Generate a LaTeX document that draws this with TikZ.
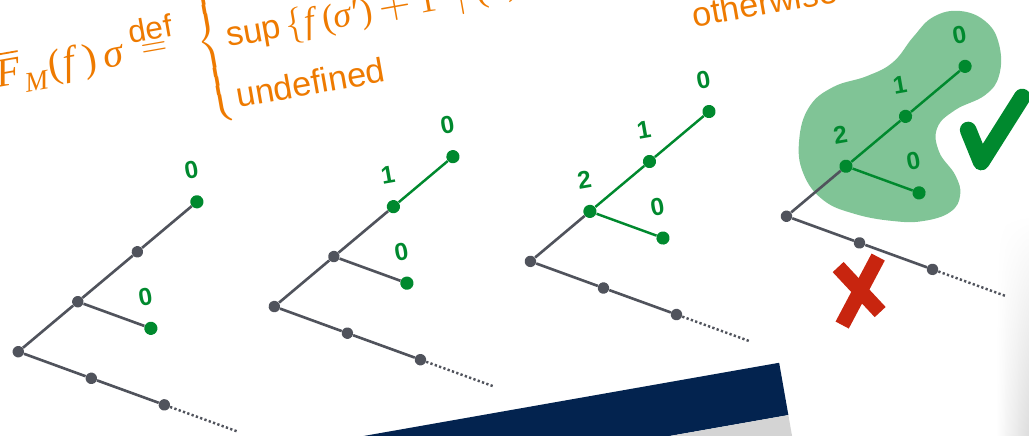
\documentclass[tikz,border=0pt]{standalone}
\usepackage{exscale}
\usepackage{fontspec}
\setmainfont{Liberation Sans}
\newfontfamily\tms{Liberation Serif}
\usetikzlibrary{fadings}

\definecolor{treegray}{RGB}{80,83,92}
\definecolor{okgreen}{RGB}{0,137,46}
\definecolor{formorange}{RGB}{238,122,0}
\definecolor{slidenavy}{RGB}{3,35,79}
\definecolor{barlight}{RGB}{212,212,212}
\definecolor{crossred}{RGB}{200,37,15}

\tikzfading[name=fade up, top color=transparent!100, bottom color=transparent!0]

\begin{document}
\begin{tikzpicture}[x=2cm, y=2cm,
  gdot/.style={circle, fill=treegray, inner sep=0pt, minimum size=6.5pt},
  adot/.style={circle, fill=okgreen, inner sep=0pt, minimum size=7.5pt},
  gedge/.style={treegray, line width=1.5pt},
  aedge/.style={okgreen, line width=1.4pt},
  tail/.style={treegray, line width=1.4pt, dash pattern=on 1.3pt off 1.3pt},
  num/.style={text=okgreen, inner sep=0pt, font=\fontsize{14}{14}\selectfont\bfseries},
  frm/.style={text=formorange, inner sep=0pt}]

\useasboundingbox (0,0) rectangle (10.29,4.36);
\clip (0,0) rectangle (10.29,4.36);

% ── BACKDROP (pixel grid, y down) ───────────────────────────────────────
\begin{scope}[yshift=8.72cm, x=0.02cm, y=-0.02cm]
  \shade[left color=white, right color=black!14, path fading=fade up]
    (996,215) rectangle (1029,440);
  \fill[slidenavy] (312,445) -- (779,362.7) -- (788.2,415) -- (618,445) -- cycle;
  \fill[barlight] (618,445) -- (788.2,415) -- (793.5,445) -- cycle;
  % blob round the accepted subtree
  \fill[okgreen!50] plot[smooth cycle, tension=0.7] coordinates {
    (960,11) (986,22) (999,45) (999,75) (985,95) (955,110) (937,128)
    (939,152) (955,175) (960,195) (950,212) (923,221) (893,221)
    (855,214) (823,200) (803,173) (799,140) (809,107) (833,87)
    (867,76) (893,62) (913,37) (933,17)};
\end{scope}

% ── EVERYTHING ELSE IN THE TILTED FRAME (root of tree 1 = origin) ───────
\begin{scope}[shift={(0.183,0.843)}, rotate=10,
  every node/.append style={transform shape}]

% formula
\node[frm, anchor=base west] (lhs) at (0.265,2.636)
  {\tms\fontsize{23}{25}\selectfont$\overline{\hbox{\itshape F}}$\kern1pt\raisebox{-5.5pt}{\fontsize{16}{16}\selectfont\itshape M}\kern1.5pt(\kern1pt\textit{f}\kern2.5pt)\kern4pt\textit{σ}};
\node[frm, font=\fontsize{18}{18}\selectfont] (defword) at (1.859,2.95) {def};
\node[frm, font=\fontsize{21}{21}\selectfont] (defeq) at (1.865,2.735) {$=$};
\node[frm, anchor=west, font=\fontsize{18}{20}\selectfont] (brace) at (2.292,2.728)
  {$\left\{\vrule height 49.5pt depth 40.5pt width 0pt\right.$};
\node[frm, anchor=base west, font=\fontsize{19.5}{22}\selectfont] (supline) at (2.594,2.636)
  {sup{\tms\fontsize{20.5}{22}\selectfont\kern3pt$\{$\kern0.5pt\textit{f}\kern2pt(\textit{σ}′)\kern4pt{\fontsize{24}{24}\selectfont$+$}\kern5pt1\kern11pt$|$\kern6pt(\textit{σ},}};
\node[frm, anchor=base west, font=\fontsize{19.5}{22}\selectfont] (undef) at (2.587,2.021) {undefined};
\node[frm, anchor=base west, font=\fontsize{19.5}{22}\selectfont] (other) at (7.218,2.021) {otherwise};

% ── TREE 1 ──────────────────────────────────────────────────────────────
\node[gdot] (t1r)  at (0,0) {};
\node[gdot] (t1u1) at (0.673,0.389) {};
\node[gdot] (t1u2) at (1.346,0.777) {};
\node[adot] (t1u3) at (2.019,1.166) {};
\node[adot] (t1b)  at (1.346,0) {};
\node[gdot] (t1d1) at (0.673,-0.389) {};
\node[gdot] (t1d2) at (1.346,-0.777) {};
\coordinate (t1e) at (2.019,-1.166);
\node[num] (t1n3) at (2.019,1.486) {0};
\node[num] (t1nb) at (1.346,0.32) {0};
\draw[gedge] (t1r) -- (t1u1);
\draw[gedge] (t1u1) -- (t1u2);
\draw[gedge] (t1u2) -- (t1u3);
\draw[gedge] (t1u1) -- (t1b);
\draw[gedge] (t1r) -- (t1d1);
\draw[gedge] (t1d1) -- (t1d2);
\draw[tail] (t1d2) -- (t1e);

% ── TREE 2 ──────────────────────────────────────────────────────────────
\node[gdot] (t2r)  at (2.6,0) {};
\node[gdot] (t2u1) at (3.273,0.389) {};
\node[adot] (t2u2) at (3.946,0.777) {};
\node[adot] (t2u3) at (4.619,1.166) {};
\node[adot] (t2b)  at (3.946,0) {};
\node[gdot] (t2d1) at (3.273,-0.389) {};
\node[gdot] (t2d2) at (3.946,-0.777) {};
\coordinate (t2e) at (4.619,-1.166);
\node[num] (t2n3) at (4.619,1.486) {0};
\node[num] (t2n2) at (3.946,1.097) {1};
\node[num] (t2nb) at (3.946,0.32) {0};
\draw[gedge] (t2r) -- (t2u1);
\draw[gedge] (t2u1) -- (t2u2);
\draw[aedge] (t2u2) -- (t2u3);
\draw[gedge] (t2u1) -- (t2b);
\draw[gedge] (t2r) -- (t2d1);
\draw[gedge] (t2d1) -- (t2d2);
\draw[tail] (t2d2) -- (t2e);

% ── TREE 3 ──────────────────────────────────────────────────────────────
\node[gdot] (t3r)  at (5.2,0) {};
\node[adot] (t3u1) at (5.873,0.389) {};
\node[adot] (t3u2) at (6.546,0.777) {};
\node[adot] (t3u3) at (7.219,1.166) {};
\node[adot] (t3b)  at (6.546,0) {};
\node[gdot] (t3d1) at (5.873,-0.389) {};
\node[gdot] (t3d2) at (6.546,-0.777) {};
\coordinate (t3e) at (7.219,-1.166);
\node[num] (t3n3) at (7.219,1.486) {0};
\node[num] (t3n2) at (6.546,1.097) {1};
\node[num] (t3n1) at (5.873,0.709) {2};
\node[num] (t3nb) at (6.546,0.32) {0};
\draw[gedge] (t3r) -- (t3u1);
\draw[aedge] (t3u1) -- (t3u2);
\draw[aedge] (t3u2) -- (t3u3);
\draw[aedge] (t3u1) -- (t3b);
\draw[gedge] (t3r) -- (t3d1);
\draw[gedge] (t3d1) -- (t3d2);
\draw[tail] (t3d2) -- (t3e);

% ── TREE 4 (inside the blob) ────────────────────────────────────────────
\node[gdot] (t4r)  at (7.8,0) {};
\node[adot] (t4u1) at (8.473,0.389) {};
\node[adot] (t4u2) at (9.146,0.777) {};
\node[adot] (t4u3) at (9.819,1.166) {};
\node[adot] (t4b)  at (9.146,0) {};
\node[gdot] (t4d1) at (8.473,-0.389) {};
\node[gdot] (t4d2) at (9.146,-0.777) {};
\coordinate (t4e) at (9.819,-1.166);
\node[num] (t4n3) at (9.819,1.486) {0};
\node[num] (t4n2) at (9.146,1.097) {1};
\node[num] (t4n1) at (8.473,0.709) {2};
\node[num] (t4nb) at (9.146,0.32) {0};
\draw[gedge] (t4r) -- (t4u1);
\draw[aedge] (t4u1) -- (t4u2);
\draw[aedge] (t4u2) -- (t4u3);
\draw[aedge] (t4u1) -- (t4b);
\draw[gedge] (t4r) -- (t4d1);
\draw[gedge] (t4d1) -- (t4d2);
\draw[tail] (t4d2) -- (t4e);
\end{scope}

% ── TICK AND CROSS (pixel grid) ─────────────────────────────────────────
\begin{scope}[yshift=8.72cm, x=0.02cm, y=-0.02cm]
  \draw[okgreen, line width=9.5pt, line cap=round, line join=round]
    (968,130) -- (981,162) -- (1022,97);
  \draw[crossred, line width=8.5pt] (838,267) -- (880,312);
  \draw[crossred, line width=8.5pt] (878,257) -- (842,325);
\end{scope}

\end{tikzpicture}
\end{document}
